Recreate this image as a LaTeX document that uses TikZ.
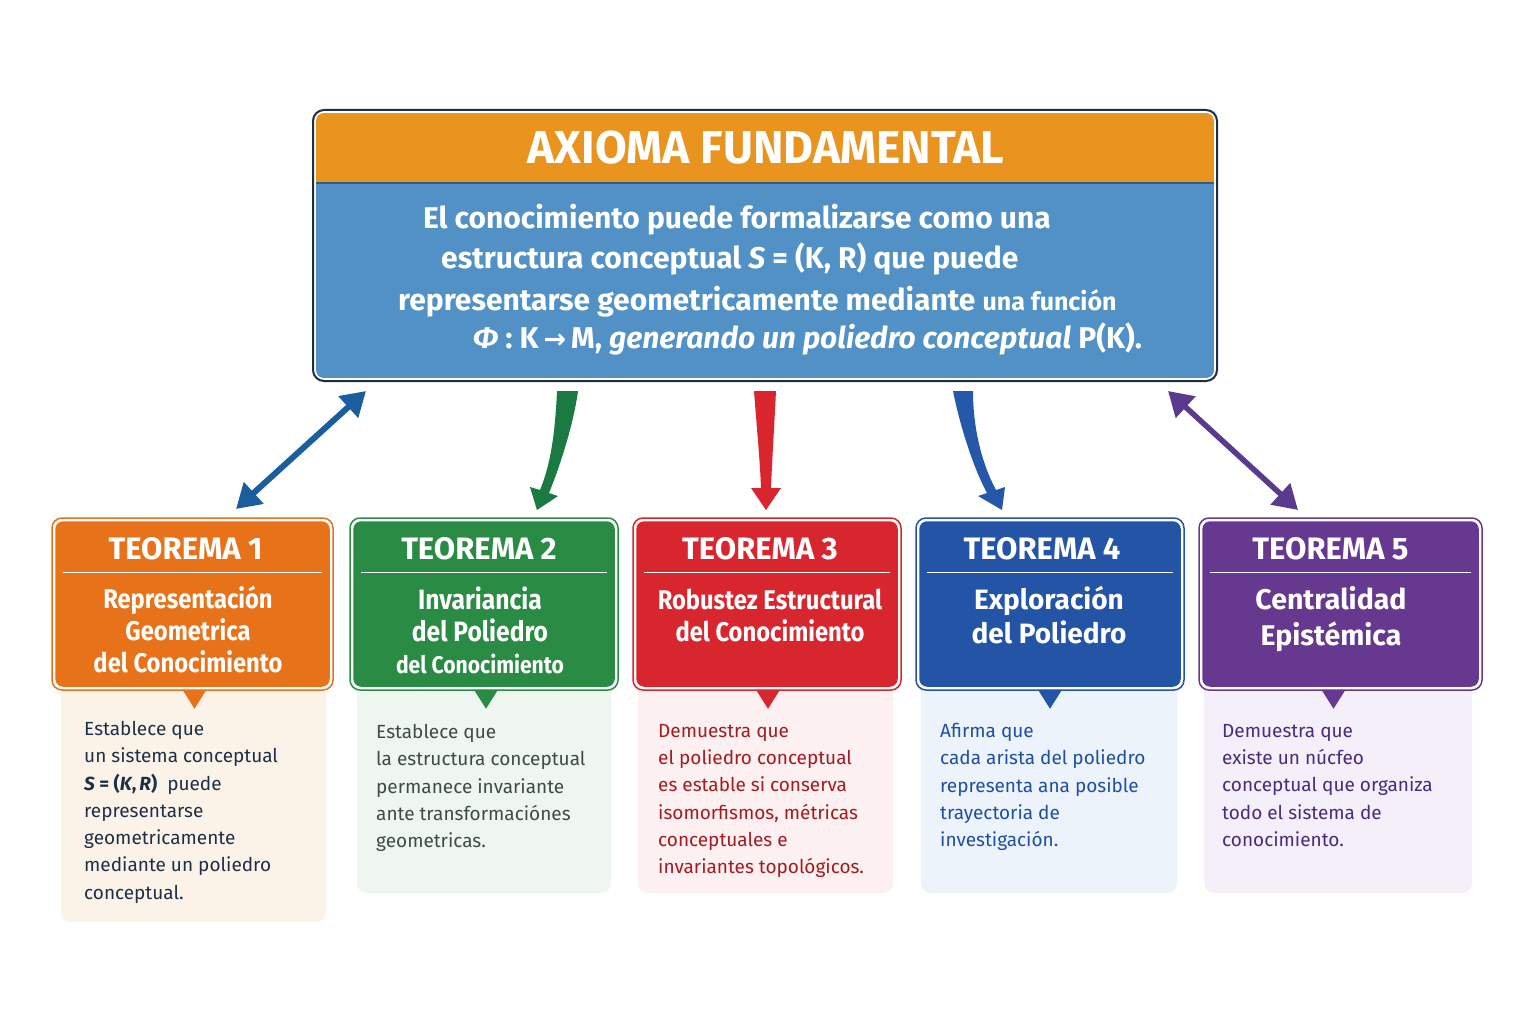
\documentclass[tikz,border=0pt]{standalone}
\usepackage{fontspec}
\setmainfont{Fira Sans}
\newfontfamily\hdfont{Fira Sans}[FakeStretch=0.88]
\newfontfamily\dvfont{DejaVu Sans}
\usetikzlibrary{arrows.meta,calc}
\definecolor{axor}{HTML}{E8941F}
\definecolor{axbl}{HTML}{5191C6}
\definecolor{axbd}{HTML}{1F2E40}
\definecolor{axsep}{HTML}{2F5E88}
\definecolor{cOr}{HTML}{E8721A}
\definecolor{cGr}{HTML}{2A8B45}
\definecolor{cRd}{HTML}{D8262E}
\definecolor{cBl}{HTML}{2454A6}
\definecolor{cPu}{HTML}{67388F}
\definecolor{dOr}{HTML}{FCF3E8}
\definecolor{dGr}{HTML}{EEF6EF}
\definecolor{dRd}{HTML}{FDF0F0}
\definecolor{dBl}{HTML}{ECF3FB}
\definecolor{dPu}{HTML}{F4EFF8}
\definecolor{xOr}{HTML}{1F3046}
\definecolor{xGr}{HTML}{3E4B47}
\definecolor{xRd}{HTML}{A31B22}
\definecolor{xBl}{HTML}{1F4FA3}
\definecolor{xPu}{HTML}{4A2A7C}
\definecolor{aBl}{HTML}{1A5E9E}
\definecolor{aGr}{HTML}{1B7A42}
\definecolor{aRd}{HTML}{D9252D}
\definecolor{aBf}{HTML}{2558A8}
\definecolor{aPu}{HTML}{5A3A8E}
\begin{document}
\begin{tikzpicture}[x=1pt,y=-1pt,
  thbox/.style={draw=#1, line width=1.5pt, fill=white, rounded corners=10pt, inner sep=0pt, minimum height=172pt},
  thtitle/.style={text=white, inner sep=0pt, font=\bfseries\fontsize{31}{31}\selectfont},
  thsub/.style={text=white, align=center, inner sep=0pt, font=\hdfont\bfseries\fontsize{27}{32}\selectfont},
  desctext/.style={anchor=north west, align=left, inner sep=0pt, font=\fontsize{19}{27.3}\selectfont, text=#1},
  axline/.style={anchor=base west, inner sep=0pt, text=white, font=\bfseries\fontsize{30}{30}\selectfont},
  dblarrow/.style={line width=#1, {Triangle[length=24pt,width=28pt]}-{Triangle[length=24pt,width=28pt]}}
]
\useasboundingbox (0,0) rectangle (1536,1024);
\fill[white] (0,0) rectangle (1536,1024);

% ---------- top box ----------
\node[draw=axbd, line width=2pt, fill=white, rounded corners=11pt, minimum width=904pt, minimum height=271pt, inner sep=0pt] (ax) at (765,245.5) {};
\begin{scope}
  \clip[rounded corners=8pt] ($(ax.north west)+(4,4)$) rectangle ($(ax.south east)+(-4,-4)$);
  \fill[axor] ($(ax.north west)+(4,4)$) rectangle ($(ax.north east)+(-4,74)$);
  \fill[axbl] ($(ax.north west)+(4,74)$) rectangle ($(ax.south east)+(-4,-4)$);
\end{scope}
\draw[axsep, line width=1.5pt] ($(ax.north west)+(4,74)$) -- ($(ax.north east)+(-4,74)$);
\node[text=white, inner sep=0pt, font=\bfseries\fontsize{46}{46}\selectfont] (axt) at (766,148) {AXIOMA FUNDAMENTAL};
\node[axline] (ax1) at (423,229) {El conocimiento puede formalizarse como una};
\node[axline] (ax2) at (441,269) {estructura conceptual {\itshape S} = (K, R) que puede};
\node[axline] (ax3) at (398,310) {representarse geometricamente mediante {\fontsize{25}{25}\selectfont una función}};
\node[axline] (ax4) at (473,348) {{\itshape Φ} : K\,{\dvfont\bfseries\fontsize{27}{27}\selectfont →}\,M, {\itshape generando un poliedro conceptual} P(K).};

% ---------- arrows ----------
\coordinate (a1s) at ($(ax.south west)+(-76,127)$);
\coordinate (a1e) at ($(ax.south west)+(54,9)$);
\draw[aBl, dblarrow=6pt] (a1s) -- (a1e);
\coordinate (a5s) at ($(ax.south east)+(-50,9)$);
\coordinate (a5e) at ($(ax.south east)+(80,128)$);
\draw[aPu, dblarrow=5.5pt] (a5s) -- (a5e);

\coordinate (a2s) at ($(ax.south)+(-197,9)$);
\coordinate (a3s) at ($(ax.south)+(0,9)$);
\coordinate (a4s) at ($(ax.south)+(198,9)$);
\begin{scope}[shift={(a2s)}]
  \fill[aGr] (-11,0) .. controls (-13,45) and (-18,75) .. (-28,99) -- (-38,96) -- (-31,119) -- (-10,105) -- (-19,102) .. controls (-6,70) and (6,30) .. (10,0) -- cycle;
\end{scope}
\begin{scope}[shift={(a3s)}]
  \fill[aRd] (-11,0) .. controls (-8,40) and (-5,70) .. (-4,97) -- (-14,97) -- (1,119) -- (16,97) -- (6,97) .. controls (7,70) and (9,40) .. (11,0) -- cycle;
\end{scope}
\begin{scope}[shift={(a4s)}]
  \fill[aBf] (-10,0) .. controls (-2,40) and (12,80) .. (24,102) -- (15,105) -- (39,119) -- (42,96) -- (33,99) .. controls (20,75) and (10,40) .. (10,0) -- cycle;
\end{scope}

% ---------- description boxes ----------
\fill[dOr, rounded corners=10pt] (61,680) rectangle (326,922);
\fill[dGr, rounded corners=10pt] (357,680) rectangle (611,893);
\fill[dRd, rounded corners=10pt] (638,680) rectangle (893,893);
\fill[dBl, rounded corners=10pt] (921,680) rectangle (1177,893);
\fill[dPu, rounded corners=10pt] (1204,680) rectangle (1472,893);

% ---------- theorem boxes ----------
\node[thbox=cOr, minimum width=281pt] (t1) at (192.5,604) {};
\node[thbox=cGr, minimum width=268pt] (t2) at (484,604) {};
\node[thbox=cRd, minimum width=268pt] (t3) at (767,604) {};
\node[thbox=cBl, minimum width=268pt] (t4) at (1050,604) {};
\node[thbox=cPu, minimum width=283pt] (t5) at (1340.5,604) {};
\foreach \t/\c/\dx in {t1/cOr/2, t2/cGr/2, t3/cRd/1, t4/cBl/0, t5/cPu/-7}{
  \fill[\c, rounded corners=8pt] ($(\t.north west)+(4,4)$) rectangle ($(\t.south east)+(-4,-4)$);
  \draw[white, line width=1.3pt] ($(\t.north west)+(12,55)$) -- ($(\t.north east)+(-12,55)$);
  \fill[\c] ($(\t.south)+(\dx-12,-1)$) -- ($(\t.south)+(\dx+12,-1)$) -- ($(\t.south)+(\dx,18)$) -- cycle;
}
\node[thtitle] (t1a) at ($(t1.north)+(-7,32)$) {TEOREMA 1};
\node[thtitle] (t2a) at ($(t2.north)+(-5,32)$) {TEOREMA 2};
\node[thtitle] (t3a) at ($(t3.north)+(-7,32)$) {TEOREMA 3};
\node[thtitle] (t4a) at ($(t4.north)+(-8,32)$) {TEOREMA 4};
\node[thtitle] (t5a) at ($(t5.north)+(-10,32)$) {TEOREMA 5};

\node[thsub] (t1b) at (188,629) {Representación\\Geometrica\\del Conocimiento};
\node[thsub, font=\hdfont\bfseries\fontsize{28}{32}\selectfont] (t2b) at (480,630) {Invariancia\\del Poliedro\\{\fontsize{24}{28}\selectfont del Conocimiento}};
\node[thsub] (t3b) at (770,615) {Robustez Estructural\\del Conocimiento};
\node[thsub, font=\bfseries\fontsize{28}{34}\selectfont] (t4b) at (1049,615) {Exploración\\del Poliedro};
\node[thsub, font=\bfseries\fontsize{28.5}{36}\selectfont] (t5b) at (1331,619) {Centralidad\\Epistémica};

% ---------- description texts ----------
\node[desctext=xOr] (d1) at (84,721) {Establece que\\un sistema conceptual\\{\bfseries{\itshape S} = ({\itshape K},\,{\itshape R})}\ \ puede\\representarse\\geometricamente\\mediante un poliedro\\conceptual.};
\node[desctext=xGr] (d2) at (376,724) {Establece que\\la estructura conceptual\\permanece invariante\\ante transformaciónes\\geometricas.};
\node[desctext=xRd] (d3) at (658,724) {Demuestra que\\el poliedro conceptual\\es estable si conserva\\isomorfismos, métricas\\conceptuales e\\invariantes topológicos.};
\node[desctext=xBl] (d4) at (940,723) {Afirma que\\cada arista del poliedro\\representa ana posible\\trayectoria de\\investigación.};
\node[desctext=xPu] (d5) at (1222,724) {Demuestra que\\existe un núcfeo\\conceptual que organiza\\todo el sistema de\\conocimiento.};
\end{tikzpicture}
\end{document}
